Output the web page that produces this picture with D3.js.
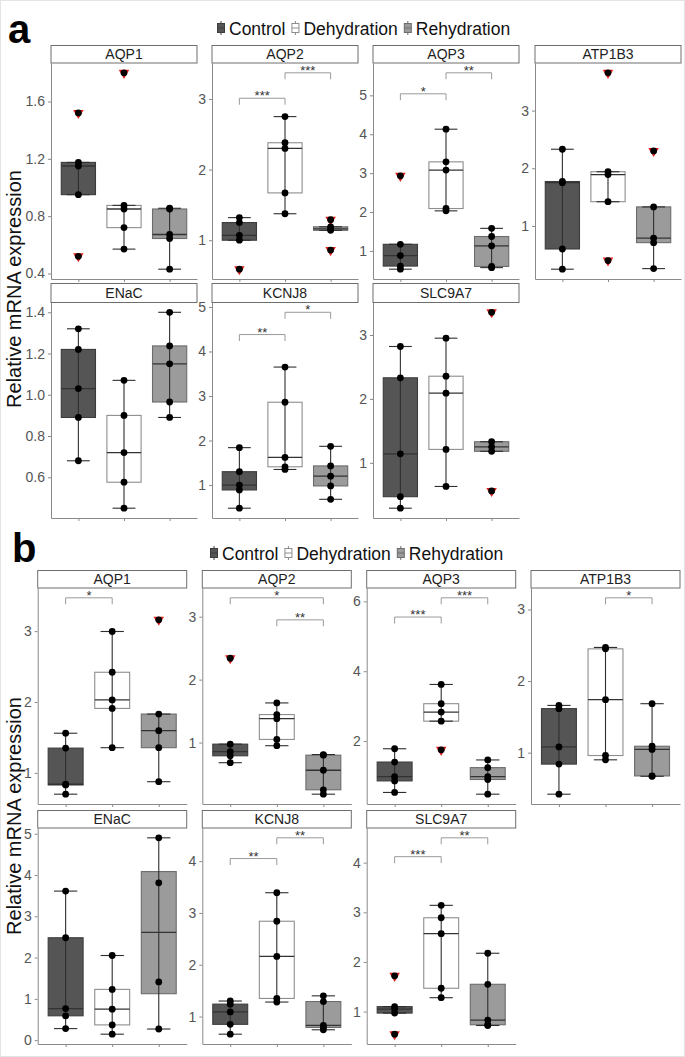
<!DOCTYPE html>
<html>
<head>
<meta charset="utf-8">
<script src="https://cdn.jsdelivr.net/npm/d3@7"></script>
<style>
  body { margin: 0; background: #fff; }
  svg { display: block; }
  text { font-family: "Liberation Sans", Arial, sans-serif; }
</style>
</head>
<body>
<svg id="chart" width="685" height="1057"></svg>
<script>
// genes (facets) and treatment groups
const genes = ['AQP1', 'AQP2', 'AQP3', 'ATP1B3', 'ENaC', 'KCNJ8', 'SLC9A7'];
const groups = ['Control', 'Dehydration', 'Rehydration'];

// panel a - relative expression per gene, one array per group
const aControl = [
    [0.52, 0.95, 1.15, 1.175, 1.52],
    [0.59, 1.0, 1.07, 1.25, 1.32],
    [0.53, 0.61, 0.88, 1.17, 2.93],
    [0.25, 0.60, 1.75, 1.77, 2.33],
    [0.68, 0.89, 1.03, 1.22, 1.32],
    [0.48, 0.89, 1.0, 1.30, 1.84],
    [0.29, 0.47, 1.14, 2.33, 2.82]
];
const aDehydration = [
    [0.57, 0.72, 0.85, 0.875, 1.80],
    [1.375, 1.67, 2.30, 2.38, 2.75],
    [2.03, 2.09, 3.08, 3.29, 4.13],
    [0.40, 1.42, 1.89, 1.94, 3.655],
    [0.45, 0.576, 0.72, 0.90, 1.07],
    [1.35, 1.41, 1.62, 2.86, 3.65],
    [0.63, 1.21, 2.09, 2.355, 2.95]
];
const aRehydration = [
    [0.43, 0.644, 0.672, 0.85, 0.855],
    [0.86, 1.14, 1.16, 1.19, 1.29],
    [0.57, 0.60, 1.13, 1.37, 1.58],
    [0.26, 0.71, 0.79, 1.33, 2.30],
    [0.89, 0.965, 1.15, 1.237, 1.40],
    [0.68, 0.98, 1.20, 1.43, 1.87],
    [0.56, 1.18, 1.25, 1.33, 3.355]
];

// panel b
const bControl = [
    [0.70, 0.83, 0.84, 1.35, 1.56],
    [0.68, 0.79, 0.855, 0.975, 2.34],
    [0.53, 0.86, 0.98, 1.40, 1.78],
    [0.42, 0.84, 1.08, 1.615, 1.66],
    [0.28, 0.59, 0.766, 2.48, 3.61],
    [0.66, 0.85, 1.09, 1.24, 1.30],
    [0.545, 0.97, 1.05, 1.10, 1.72]
];
const bDehydration = [
    [1.356, 1.91, 2.03, 2.42, 2.995],
    [0.95, 1.05, 1.38, 1.445, 1.63],
    [1.75, 2.57, 2.83, 3.07, 3.62],
    [0.90, 0.96, 1.74, 2.45, 2.47],
    [0.145, 0.37, 0.75, 1.23, 2.05],
    [1.28, 1.35, 2.16, 2.84, 3.39],
    [1.28, 1.47, 2.57, 2.89, 3.14]
];
const bRehydration = [
    [0.876, 1.356, 1.596, 1.83, 3.16],
    [0.18, 0.25, 0.56, 0.80, 0.81],
    [0.48, 0.90, 0.98, 1.24, 1.46],
    [0.67, 0.675, 1.045, 1.09, 1.684],
    [0.27, 1.41, 3.81, 4.90],
    [0.745, 0.79, 0.83, 1.29, 1.40],
    [0.72, 0.735, 0.83, 1.55, 2.175]
];

// significance brackets: [from, to, y level, label]
const aSig = [
    [],
    [['Control', 'Dehydration', 3.01, '***'], ['Dehydration', 'Rehydration', 3.37, '***']],
    [['Control', 'Dehydration', 5.04, '*'], ['Dehydration', 'Rehydration', 5.58, '**']],
    [],
    [],
    [['Control', 'Dehydration', 4.38, '**'], ['Dehydration', 'Rehydration', 4.88, '*']],
    []
];
const bSig = [
    [['Control', 'Dehydration', 3.47, '*']],
    [['Control', 'Rehydration', 3.30, '*'], ['Dehydration', 'Rehydration', 2.95, '**']],
    [['Control', 'Dehydration', 5.55, '***'], ['Dehydration', 'Rehydration', 6.10, '***']],
    [['Dehydration', 'Rehydration', 3.163, '*']],
    [],
    [['Control', 'Dehydration', 4.05, '**'], ['Dehydration', 'Rehydration', 4.45, '**']],
    [['Control', 'Dehydration', 4.12, '***'], ['Dehydration', 'Rehydration', 4.50, '**']]
];

// y tick values
const aTicks = [[0.4, 0.8, 1.2, 1.6], [1, 2, 3], [1, 2, 3, 4, 5], [1, 2, 3],
    [0.6, 0.8, 1.0, 1.2, 1.4], [1, 2, 3, 4, 5], [1, 2, 3]];
const bTicks = [[1, 2, 3], [1, 2, 3], [2, 4, 6], [1, 2, 3],
    [0, 1, 2, 3, 4, 5], [1, 2, 3, 4], [1, 2, 3, 4]];

const fills = {Control: '#555555', Dehydration: '#ffffff', Rehydration: '#9b9b9b'};
const strokes = {Control: '#3c3c3c', Dehydration: '#8e8e8e', Rehydration: '#6c6c6c'};
const axisColor = '#8a8a8a';

const svg = d3.select('#chart');

svg.append('rect')
    .attr('x', 0.5).attr('y', 0.5)
    .attr('width', 684).attr('height', 1056)
    .attr('fill', 'none').attr('stroke', '#e4e4e4');

const layoutA = {
    cols: [51, 212, 373, 535], w: 146,
    rows: [{s: 45.5, t: 63, b: 279}, {s: 283.5, t: 302.5, b: 518}],
    label: [8, 43], legend: [217, 28], ylab: 289
};
const layoutB = {
    cols: [37.7, 202.3, 366.7, 531], w: 149,
    rows: [{s: 570.5, t: 588, b: 804}, {s: 810.5, t: 828, b: 1044}],
    label: [12, 562], legend: [210, 553], ylab: 816
};

function boxStats(v) {
    const s = v.slice().sort(d3.ascending);
    const q1 = d3.quantile(s, 0.25), med = d3.quantile(s, 0.5), q3 = d3.quantile(s, 0.75);
    const iqr = q3 - q1;
    const inside = s.filter(d => d >= q1 - 1.5 * iqr && d <= q3 + 1.5 * iqr);
    return {
        q1, med, q3,
        lo: d3.min(inside), hi: d3.max(inside),
        out: s.filter(d => d < q1 - 1.5 * iqr || d > q3 + 1.5 * iqr)
    };
}

function drawPanel(i, lay, vals, sig, ticks) {
    const col = i % 4, row = Math.floor(i / 4);
    const x0 = lay.cols[col], x1 = x0 + lay.w;
    const r = lay.rows[row];
    const g = svg.append('g');

    const x = d3.scalePoint().domain(groups).range([x0, x1]).padding(0.6);
    const all = vals.flat().concat(sig.map(s => s[2]));
    const [lo, hi] = d3.extent(all);
    const pad = (hi - lo) * 0.05;
    const y = d3.scaleLinear().domain([lo - pad, hi + pad]).range([r.b, r.t]);
    const boxW = x.step() * 0.75, capW = x.step() * 0.5;

    // axes
    const dec = ticks.some(t => t % 1 !== 0);
    const yAxis = g.append('g')
        .attr('transform', `translate(${x0},0)`)
        .call(d3.axisLeft(y).tickValues(ticks).tickSize(3).tickSizeOuter(0)
            .tickFormat(d3.format(dec ? '.1f' : 'd')));
    const xAxis = g.append('g')
        .attr('transform', `translate(0,${r.b})`)
        .call(d3.axisBottom(x).tickSize(3).tickSizeOuter(0).tickFormat(''));
    [yAxis, xAxis].forEach(a => {
        a.select('.domain').attr('stroke', axisColor);
        a.selectAll('.tick line').attr('stroke', axisColor);
        a.selectAll('.tick text')
            .attr('fill', '#555')
            .attr('font-size', 14)
            .attr('font-family', '"Liberation Sans", Arial, sans-serif');
    });

    // strip
    g.append('rect')
        .attr('x', x0).attr('y', r.s)
        .attr('width', x1 - x0).attr('height', r.t - r.s)
        .attr('fill', '#fff').attr('stroke', '#6e6e6e').attr('stroke-width', 1);
    g.append('text')
        .attr('x', (x0 + x1) / 2).attr('y', (r.s + r.t) / 2 + 5)
        .attr('text-anchor', 'middle')
        .attr('font-size', 14).attr('fill', '#222')
        .text(genes[i]);

    groups.forEach((grp, k) => {
        const v = vals[k];
        const st = boxStats(v);
        const cx = x(grp);
        // box
        g.append('rect')
            .attr('x', cx - boxW / 2).attr('y', y(st.q3))
            .attr('width', boxW).attr('height', Math.max(0.5, y(st.q1) - y(st.q3)))
            .attr('fill', fills[grp]).attr('stroke', strokes[grp]).attr('stroke-width', 1.1);
        // whisker line + caps
        g.append('line')
            .attr('x1', cx).attr('x2', cx)
            .attr('y1', y(st.lo)).attr('y2', y(st.hi))
            .attr('stroke', '#2e2e2e').attr('stroke-width', 1.1);
        [st.lo, st.hi].forEach(w => {
            g.append('line')
                .attr('x1', cx - capW / 2).attr('x2', cx + capW / 2)
                .attr('y1', y(w)).attr('y2', y(w))
                .attr('stroke', '#2e2e2e').attr('stroke-width', 1.1);
        });
        // median
        g.append('line')
            .attr('x1', cx - boxW / 2).attr('x2', cx + boxW / 2)
            .attr('y1', y(st.med)).attr('y2', y(st.med))
            .attr('stroke', '#333').attr('stroke-width', 1.3);
        // outliers
        g.selectAll(null).data(st.out).enter().append('path')
            .attr('d', d3.symbol(d3.symbolTriangle, 48)())
            .attr('transform', d => `translate(${cx},${y(d)}) rotate(180)`)
            .attr('fill', '#e8201c');
        // points
        g.selectAll(null).data(v).enter().append('circle')
            .attr('cx', cx).attr('cy', d => y(d))
            .attr('r', 3.4).attr('fill', '#000');
    });

    // significance brackets
    const tip = (y.domain()[1] - y.domain()[0]) * 0.03;
    sig.forEach(s => {
        const xa = x(s[0]), xb = x(s[1]), yy = y(s[2]), yt = y(s[2] - tip);
        g.append('path')
            .attr('d', `M${xa},${yt}V${yy}H${xb}V${yt}`)
            .attr('fill', 'none').attr('stroke', '#9a9a9a').attr('stroke-width', 1);
        g.append('text')
            .attr('x', (xa + xb) / 2).attr('y', yy + 2)
            .attr('text-anchor', 'middle')
            .attr('font-size', 13).attr('fill', '#333')
            .text(s[3]);
    });
}

function drawLegend(lay) {
    let xPos = lay.legend[0];
    const yc = lay.legend[1];
    groups.forEach(grp => {
        const kx = xPos + 4;
        svg.append('line')
            .attr('x1', kx).attr('x2', kx).attr('y1', yc - 7).attr('y2', yc + 7)
            .attr('stroke', strokes[grp]).attr('stroke-width', 1);
        svg.append('rect')
            .attr('x', kx - 3.5).attr('y', yc - 4.5).attr('width', 7).attr('height', 9)
            .attr('fill', fills[grp]).attr('stroke', strokes[grp]).attr('stroke-width', 1);
        svg.append('line')
            .attr('x1', kx - 3.5).attr('x2', kx + 3.5).attr('y1', yc).attr('y2', yc)
            .attr('stroke', strokes[grp]).attr('stroke-width', 1);
        const t = svg.append('text')
            .attr('x', xPos + 12).attr('y', yc + 6.5)
            .attr('font-size', 17.5).attr('fill', '#111')
            .text(grp);
        xPos += 12 + t.node().getComputedTextLength() + 6;
    });
}

function drawFigure(lay, ctrl, dehy, rehy, sig, ticks, letter) {
    svg.append('text')
        .attr('x', lay.label[0]).attr('y', lay.label[1])
        .attr('font-size', 40).attr('font-weight', 'bold').attr('fill', '#000')
        .text(letter);
    drawLegend(lay);
    svg.append('text')
        .attr('transform', `translate(21,${lay.ylab}) rotate(-90)`)
        .attr('text-anchor', 'middle')
        .attr('font-size', 20).attr('fill', '#111')
        .text('Relative mRNA expression');
    genes.forEach((gene, i) => {
        drawPanel(i, lay, [ctrl[i], dehy[i], rehy[i]], sig[i], ticks[i]);
    });
}

drawFigure(layoutA, aControl, aDehydration, aRehydration, aSig, aTicks, 'a');
drawFigure(layoutB, bControl, bDehydration, bRehydration, bSig, bTicks, 'b');
</script>
</body>
</html>
